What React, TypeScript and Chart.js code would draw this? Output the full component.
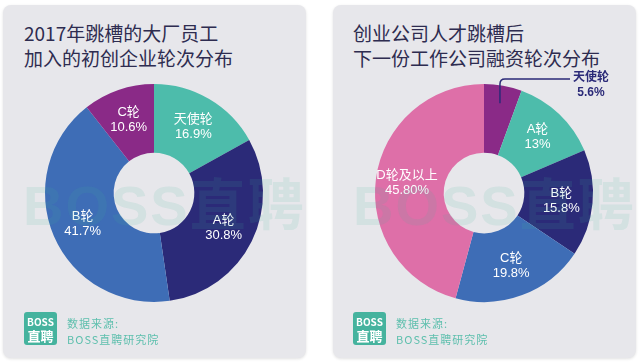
import React, { useEffect, useRef } from 'react';
import { Chart, registerables } from 'chart.js';

Chart.register(...registerables);

const leftTitle = ['2017年跳槽的大厂员工', '加入的初创企业轮次分布'];
const leftLabels = ['天使轮', 'A轮', 'B轮', 'C轮'];
const leftValues = [16.9, 30.8, 41.7, 10.6];
const leftValueText = ['16.9%', '30.8%', '41.7%', '10.6%'];

const rightTitle = ['创业公司人才跳槽后', '下一份工作公司融资轮次分布'];
const rightLabels = ['天使轮', 'A轮', 'B轮', 'C轮', 'D轮及以上'];
const rightValues = [5.6, 13, 15.8, 19.8, 45.8];
const rightValueText = ['5.6%', '13%', '15.8%', '19.8%', '45.80%'];

const sourceLines = ['数据来源:', 'BOSS直聘研究院'];
const watermark = 'BOSS直聘';

const TEAL = '#4dbcab';
const NAVY = '#2b2a78';
const BLUE = '#3e6db6';
const PURPLE = '#8a2a87';
const PINK = '#de6fa8';

const leftColors = [TEAL, NAVY, BLUE, PURPLE];
const rightColors = [PURPLE, TEAL, NAVY, BLUE, PINK];

const FONT = "'Liberation Sans', 'Noto Sans CJK SC', sans-serif";

type DonutProps = {
  labels: string[];
  values: number[];
  valueText: string[];
  colors: string[];
  outside: number[];
};

const labelPlugin = {
  id: 'sliceLabels',
  afterDatasetsDraw(chart: any) {
    const meta = chart.getDatasetMeta(0);
    const labels: string[] = chart.data.labels;
    const texts: string[] = chart.options.plugins.sliceLabels.texts;
    const outside: number[] = chart.options.plugins.sliceLabels.outside;
    const ctx = chart.ctx;
    ctx.save();
    meta.data.forEach((arc: any, i: number) => {
      const p = arc.getProps(['x', 'y', 'startAngle', 'endAngle', 'innerRadius', 'outerRadius'], true);
      const mid = (p.startAngle + p.endAngle) / 2;
      if (outside.includes(i)) {
        const r0 = p.innerRadius + 0.74 * (p.outerRadius - p.innerRadius);
        const sx = p.x + Math.cos(mid) * r0;
        const sy = p.y + Math.sin(mid) * r0;
        const topY = p.y - p.outerRadius - 5;
        const endX = p.x + 86;
        const cr = 5;
        ctx.strokeStyle = NAVY;
        ctx.lineWidth = 1.5;
        ctx.beginPath();
        ctx.moveTo(sx, sy);
        ctx.lineTo(sx, topY + cr);
        ctx.quadraticCurveTo(sx, topY, sx + cr, topY);
        ctx.lineTo(endX, topY);
        ctx.stroke();
        ctx.fillStyle = NAVY;
        ctx.textAlign = 'center';
        ctx.textBaseline = 'middle';
        ctx.font = `bold 12px ${FONT}`;
        const tx = p.x + 107;
        ctx.fillText(labels[i], tx, topY - 1);
        ctx.fillText(texts[i], tx, topY + 14);
      } else {
        const r = (p.innerRadius + p.outerRadius) / 2 + 3;
        const cx = p.x + Math.cos(mid) * r;
        const cy = p.y + Math.sin(mid) * r;
        ctx.fillStyle = '#ffffff';
        ctx.textAlign = 'center';
        ctx.textBaseline = 'middle';
        ctx.font = `13px ${FONT}`;
        ctx.fillText(labels[i], cx, cy - 7);
        ctx.fillText(texts[i], cx, cy + 8);
      }
    });
    ctx.restore();
  },
};

function Donut({ labels, values, valueText, colors, outside }: DonutProps) {
  const ref = useRef<HTMLCanvasElement>(null);
  useEffect(() => {
    if (!ref.current) return;
    const chart = new Chart(ref.current, {
      type: 'doughnut',
      data: {
        labels,
        datasets: [
          {
            data: values,
            backgroundColor: colors,
            borderWidth: 0,
            hoverOffset: 0,
          },
        ],
      },
      options: {
        animation: false,
        responsive: false,
        cutout: '37%',
        layout: { padding: { left: 42, top: 79, right: 43, bottom: 56 } },
        plugins: {
          legend: { display: false },
          tooltip: { enabled: false },
          sliceLabels: { texts: valueText, outside },
        } as any,
      },
      plugins: [labelPlugin],
    });
    return () => chart.destroy();
  }, []);
  return (
    <canvas
      ref={ref}
      width={303}
      height={353}
      style={{ position: 'absolute', left: 0, top: 0, width: 303, height: 353 }}
    />
  );
}

function Card({ left, titleX, title, children }: { left: number; titleX: number; title: string[]; children: any }) {
  return (
    <div
      style={{
        position: 'absolute',
        left,
        top: 5,
        width: 303,
        height: 353,
        background: '#e7e7eb',
        borderRadius: 8,
        boxShadow: '0 1px 3px rgba(0,0,0,0.12)',
        overflow: 'hidden',
      }}
    >
      <div
        style={{
          position: 'absolute',
          left: titleX,
          top: 15,
          fontFamily: "'Noto Sans CJK SC', sans-serif",
          fontSize: 19,
          lineHeight: '25px',
          color: '#2e2c50',
          whiteSpace: 'nowrap',
        }}
      >
        {title.map((t, i) => (
          <div key={i}>{t}</div>
        ))}
      </div>
      {children}
      <div
        style={{
          position: 'absolute',
          left: 20,
          top: 168,
          fontFamily: FONT,
          fontWeight: 'bold',
          fontSize: 56,
          lineHeight: '66px',
          letterSpacing: 2,
          color: 'rgba(63,179,156,0.12)',
          whiteSpace: 'nowrap',
          pointerEvents: 'none',
        }}
      >
        {watermark}
      </div>
      <div
        style={{
          position: 'absolute',
          left: titleX,
          top: 307,
          width: 33,
          height: 33,
          background: '#45b39e',
          borderRadius: 3,
          color: '#fff',
          fontFamily: "'Noto Sans CJK SC', sans-serif",
          fontWeight: 'bold',
          textAlign: 'center',
        }}
      >
        <div style={{ fontSize: 10, lineHeight: '13px', paddingTop: 3 }}>BOSS</div>
        <div style={{ fontSize: 13, lineHeight: '15px' }}>直聘</div>
      </div>
      <div
        style={{
          position: 'absolute',
          left: titleX + 43,
          top: 310,
          fontFamily: "'Noto Sans CJK SC', sans-serif",
          fontSize: 11,
          lineHeight: '16px',
          letterSpacing: 1,
          color: '#5dbfad',
          whiteSpace: 'nowrap',
        }}
      >
        {sourceLines.map((t, i) => (
          <div key={i}>{t}</div>
        ))}
      </div>
    </div>
  );
}

export default function App() {
  return (
    <div
      style={{
        position: 'fixed',
        left: 0,
        top: 0,
        width: 640,
        height: 363,
        background: '#ffffff',
        overflow: 'hidden',
      }}
    >
      <Card left={3} titleX={21} title={leftTitle}>
        <Donut labels={leftLabels} values={leftValues} valueText={leftValueText} colors={leftColors} outside={[]} />
      </Card>
      <Card left={333} titleX={20} title={rightTitle}>
        <Donut labels={rightLabels} values={rightValues} valueText={rightValueText} colors={rightColors} outside={[0]} />
      </Card>
    </div>
  );
}
